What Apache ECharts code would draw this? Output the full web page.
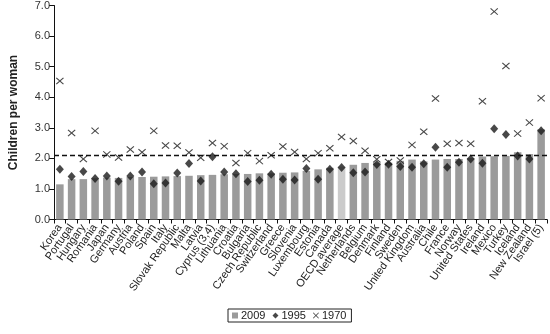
<!DOCTYPE html>
<html>
<head>
<meta charset="utf-8">
<script src="https://cdn.jsdelivr.net/npm/echarts@6/dist/echarts.min.js"></script>
<style>
  html, body { margin: 0; padding: 0; background: #fff; }
  #chart { width: 550px; height: 334px; }
</style>
</head>
<body>
<div id="chart"></div>
<script>
// Total fertility rate by country, ordered by the 2009 value
const countries = [
  'Korea', 'Portugal', 'Hungary', 'Romania', 'Japan', 'Germany', 'Austria', 'Poland',
  'Spain', 'Italy', 'Slovak Republic', 'Malta', 'Latvia', 'Cyprus (3,4)', 'Lithuania',
  'Croatia', 'Bulgaria', 'Czech Republic', 'Switzerland', 'Greece', 'Slovenia',
  'Luxembourg', 'Estonia', 'Canada', 'OECD average', 'Netherlands', 'Belgium',
  'Denmark', 'Finland', 'Sweden', 'United Kingdom', 'Australia', 'Chile', 'France',
  'Norway', 'United States', 'Ireland', 'Mexico', 'Turkey', 'Iceland', 'New Zealand',
  'Israel (5)'
];

const tfr2009 = [
  1.15, 1.32, 1.32, 1.35, 1.37, 1.36, 1.39, 1.39, 1.40, 1.41, 1.42, 1.43, 1.45, 1.46,
  1.48, 1.49, 1.49, 1.51, 1.51, 1.53, 1.54, 1.59, 1.64, 1.69, 1.73, 1.79, 1.85,
  1.86, 1.86, 1.92, 1.96, 1.90, 1.96, 1.98, 1.98, 2.01, 2.06, 2.07, 2.08, 2.20,
  2.14, 2.95
];

const tfr1995 = [
  1.64, 1.41, 1.57, 1.34, 1.42, 1.25, 1.42, 1.55, 1.17, 1.19, 1.52, 1.83, 1.26, 2.05,
  1.55, 1.50, 1.24, 1.28, 1.48, 1.32, 1.29, 1.67, 1.32, 1.64, 1.70, 1.53, 1.55,
  1.80, 1.81, 1.73, 1.71, 1.82, 2.36, 1.71, 1.87, 1.98, 1.84, 2.97, 2.78, 2.08,
  1.98, 2.90
];

const tfr1970 = [
  4.53, 2.83, 1.98, 2.90, 2.13, 2.03, 2.29, 2.20, 2.90, 2.42, 2.41, 2.19, 2.02, 2.50,
  2.40, 1.85, 2.17, 1.91, 2.10, 2.39, 2.21, 1.98, 2.17, 2.33, 2.70, 2.57, 2.25,
  1.97, 1.88, 1.93, 2.44, 2.87, 3.96, 2.48, 2.50, 2.48, 3.87, 6.80, 5.02, 2.81,
  3.17, 3.97
];

const yTicks = [0, 1, 2, 3, 4, 5, 6, 7];
const replacementLevel = 2.1;
const averageLabel = 'OECD average';

const BAR_COLOR = '#9b9b9b';
const AVG_COLOR = '#cbcbcb';
const MARK_COLOR = '#1a1a1a';
const FONT = '"Liberation Sans", Arial, Helvetica, sans-serif';
const CROSS = 'path://M0,1L1,0L5,4L9,0L10,1L6,5L10,9L9,10L5,6L1,10L0,9L4,5Z';

const chart = echarts.init(document.getElementById('chart'), null, { renderer: 'canvas' });

chart.setOption({
  animation: false,
  backgroundColor: '#fff',
  textStyle: { fontFamily: FONT },
  grid: { left: 44, right: 3, top: 5, bottom: 114.5 },
  legend: {
    top: 309,
    left: 228,
    orient: 'horizontal',
    itemWidth: 6,
    itemHeight: 6,
    itemGap: 7,
    padding: [1, 5, 1, 4],
    borderColor: '#222',
    borderWidth: 1,
    textStyle: { fontSize: 11, color: '#222', fontFamily: FONT, padding: [0, 0, 0, -2] },
    data: [
      { name: '2009', icon: 'rect' },
      { name: '1995', icon: 'diamond' },
      { name: '1970', icon: CROSS }
    ]
  },
  xAxis: {
    type: 'category',
    data: countries,
    axisLine: { lineStyle: { color: '#111', width: 1 } },
    axisTick: { show: true, length: 4, lineStyle: { color: '#111' } },
    axisLabel: {
      interval: 0,
      rotate: 55,
      margin: 6,
      fontSize: 11,
      color: '#222',
      fontFamily: FONT
    },
    splitLine: { show: false }
  },
  yAxis: {
    type: 'value',
    min: yTicks[0],
    max: yTicks[yTicks.length - 1],
    interval: 1,
    name: 'Children per woman',
    nameLocation: 'middle',
    nameGap: 34,
    nameTextStyle: { fontSize: 12, fontWeight: 'bold', color: '#222', fontFamily: FONT },
    axisLine: { show: true, lineStyle: { color: '#111', width: 1 } },
    axisTick: { show: true, length: 5, lineStyle: { color: '#111' } },
    axisLabel: {
      fontSize: 11,
      color: '#333',
      margin: 4,
      fontFamily: FONT,
      formatter: v => v.toFixed(1)
    },
    splitLine: { show: false }
  },
  series: [
    {
      name: '2009',
      type: 'bar',
      barWidth: '64%',
      itemStyle: { color: BAR_COLOR },
      data: tfr2009.map((v, i) => ({
        value: v,
        itemStyle: { color: countries[i] === averageLabel ? AVG_COLOR : BAR_COLOR }
      })),
      markLine: {
        silent: true,
        symbol: 'none',
        label: { show: false },
        lineStyle: { color: '#111', type: [5, 3], width: 1.3 },
        data: [{ yAxis: replacementLevel }]
      },
      z: 1
    },
    {
      name: '1995',
      type: 'scatter',
      symbol: 'diamond',
      symbolSize: [8, 9],
      itemStyle: { color: MARK_COLOR },
      data: tfr1995,
      z: 3
    },
    {
      name: '1970',
      type: 'scatter',
      symbol: CROSS,
      symbolSize: [8, 7],
      itemStyle: { color: MARK_COLOR },
      data: tfr1970,
      z: 3
    }
  ]
});
</script>
</body>
</html>
